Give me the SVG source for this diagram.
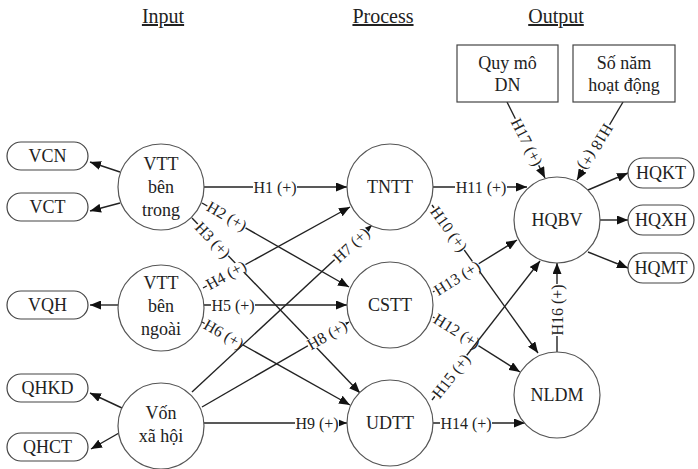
<svg xmlns="http://www.w3.org/2000/svg" width="698" height="469" viewBox="0 0 698 469" font-family="'Liberation Serif', 'DejaVu Serif', serif">
<style>
text{font-family:'Liberation Serif','DejaVu Serif',serif;fill:#222;text-anchor:middle}
.t{font-size:18px}
.title{font-size:20px;text-decoration:underline}
.lb{font-size:16px}
.c{fill:#fff;stroke:#555;stroke-width:1.2}
.b{fill:#fff;stroke:#444;stroke-width:1.2}
.e{stroke:#222;stroke-width:1.4;fill:none}
.a{marker-end:url(#ah)}
.bg{fill:#fff}
</style>
<defs>
<marker id="ah" markerUnits="userSpaceOnUse" markerWidth="11" markerHeight="9" refX="11" refY="4.5" orient="auto"><path d="M0,0 L11,4.5 L0,9 z" fill="#111"/></marker>
</defs>
<rect width="698" height="469" fill="#fff"/>
<g id="titles">
<text class="title" x="163" y="23">Input</text>
<text class="title" x="383" y="23">Process</text>
<text class="title" x="556" y="23">Output</text>
</g>
<g id="connectors">
<line class="e a" x1="120" y1="172" x2="90" y2="162"/>
<line class="e a" x1="120" y1="203" x2="90" y2="211"/>
<line class="e a" x1="118" y1="305" x2="90" y2="305"/>
<line class="e a" x1="122" y1="408" x2="90" y2="393"/>
<line class="e a" x1="119" y1="433" x2="91" y2="449"/>
<line class="e a" x1="588" y1="190" x2="628" y2="173"/>
<line class="e a" x1="600" y1="220" x2="628" y2="220"/>
<line class="e a" x1="588" y1="252" x2="628" y2="268"/>
<g id="h1"><line class="e a" x1="204" y1="187" x2="347" y2="187"/><g transform="translate(275,187)"><rect class="bg" x="-22" y="-6" width="44" height="12"/><text class="lb" dy="5.5">H1 (+)</text></g></g>
<g id="h2"><line class="e a" x1="202" y1="203" x2="349" y2="287"/><g transform="translate(227,216) rotate(30)"><rect class="bg" x="-22" y="-6" width="44" height="12"/><text class="lb" dy="5.5">H2 (+)</text></g></g>
<g id="h3"><line class="e a" x1="192" y1="218" x2="360" y2="393"/><g transform="translate(213,240) rotate(46)"><rect class="bg" x="-22" y="-6" width="44" height="12"/><text class="lb" dy="5.5">H3 (+)</text></g></g>
<g id="h4"><line class="e a" x1="203" y1="288" x2="350" y2="207"/><g transform="translate(226,275) rotate(-29)"><rect class="bg" x="-22" y="-6" width="44" height="12"/><text class="lb" dy="5.5">H4 (+)</text></g></g>
<g id="h5"><line class="e a" x1="204" y1="305" x2="347" y2="305"/><g transform="translate(233,305)"><rect class="bg" x="-22" y="-6" width="44" height="12"/><text class="lb" dy="5.5">H5 (+)</text></g></g>
<g id="h6"><line class="e a" x1="202" y1="322" x2="350" y2="405"/><g transform="translate(224,334) rotate(30)"><rect class="bg" x="-22" y="-6" width="44" height="12"/><text class="lb" dy="5.5">H6 (+)</text></g></g>
<g id="h7"><line class="e a" x1="192" y1="392" x2="372" y2="225"/><g transform="translate(351,245) rotate(-43)"><rect class="bg" x="-22" y="-6" width="44" height="12"/><text class="lb" dy="5.5">H7 (+)</text></g></g>
<g id="h8"><line class="e a" x1="202" y1="407" x2="349" y2="322"/><g transform="translate(327,335) rotate(-30)"><rect class="bg" x="-22" y="-6" width="44" height="12"/><text class="lb" dy="5.5">H8 (+)</text></g></g>
<g id="h9"><line class="e a" x1="204" y1="423" x2="347" y2="423"/><g transform="translate(317,423)"><rect class="bg" x="-22" y="-6" width="44" height="12"/><text class="lb" dy="5.5">H9 (+)</text></g></g>
<g id="h10"><line class="e a" x1="432" y1="205" x2="538" y2="353"/><g transform="translate(449,229) rotate(54)"><rect class="bg" x="-26" y="-6" width="52" height="12"/><text class="lb" dy="5.5">H10 (+)</text></g></g>
<g id="h11"><line class="e a" x1="433" y1="187" x2="527" y2="187"/><g transform="translate(481,187)"><rect class="bg" x="-26" y="-6" width="52" height="12"/><text class="lb" dy="5.5">H11 (+)</text></g></g>
<g id="h12"><line class="e a" x1="433" y1="317" x2="520" y2="372"/><g transform="translate(457,331) rotate(32)"><rect class="bg" x="-26" y="-6" width="52" height="12"/><text class="lb" dy="5.5">H12 (+)</text></g></g>
<g id="h13"><line class="e a" x1="433" y1="292" x2="517" y2="240"/><g transform="translate(457,278) rotate(-32)"><rect class="bg" x="-26" y="-6" width="52" height="12"/><text class="lb" dy="5.5">H13 (+)</text></g></g>
<g id="h14"><line class="e a" x1="433" y1="423" x2="525" y2="423"/><g transform="translate(466,423)"><rect class="bg" x="-26" y="-6" width="52" height="12"/><text class="lb" dy="5.5">H14 (+)</text></g></g>
<g id="h15"><line class="e a" x1="432" y1="400" x2="540" y2="261"/><g transform="translate(451,376) rotate(-52)"><rect class="bg" x="-26" y="-6" width="52" height="12"/><text class="lb" dy="5.5">H15 (+)</text></g></g>
<g id="h16"><line class="e a" x1="557" y1="352" x2="557" y2="263"/><g transform="translate(557,310) rotate(-90)"><rect class="bg" x="-26" y="-6" width="52" height="12"/><text class="lb" dy="5.5">H16 (+)</text></g></g>
<g id="h17"><line class="e a" x1="507" y1="102" x2="545" y2="178"/><g transform="translate(527,142) rotate(63)"><rect class="bg" x="-26" y="-6" width="52" height="12"/><text class="lb" dy="5.5">H17 (+)</text></g></g>
<g id="h18"><line class="e a" x1="623" y1="102" x2="577" y2="180"/><g transform="translate(596,147) rotate(121)"><rect class="bg" x="-26" y="-6" width="52" height="12"/><text class="lb" dy="5.5">H18 (+)</text></g></g>
</g>
<g id="vcn"><rect class="b" x="7" y="142" width="81" height="28" rx="14"/><text class="t" x="47.5" y="162">VCN</text></g>
<g id="vct"><rect class="b" x="7" y="193" width="81" height="28" rx="14"/><text class="t" x="47.5" y="213">VCT</text></g>
<g id="vqh"><rect class="b" x="7" y="291" width="81" height="28" rx="14"/><text class="t" x="47.5" y="311">VQH</text></g>
<g id="qhkd"><rect class="b" x="7" y="374" width="81" height="28" rx="14"/><text class="t" x="47.5" y="394">QHKD</text></g>
<g id="qhct"><rect class="b" x="7" y="433" width="81" height="28" rx="14"/><text class="t" x="47.5" y="453">QHCT</text></g>
<g id="vtt-trong"><circle class="c" cx="161" cy="187" r="43"/><text class="t" x="161" y="170">VTT</text><text class="t" x="161" y="193">bên</text><text class="t" x="161" y="216">trong</text></g>
<g id="vtt-ngoai"><circle class="c" cx="161" cy="308" r="43"/><text class="t" x="161" y="289">VTT</text><text class="t" x="161" y="312">bên</text><text class="t" x="161" y="335">ngoài</text></g>
<g id="von"><circle class="c" cx="161" cy="426" r="43"/><text class="t" x="161" y="419">Vốn</text><text class="t" x="161" y="442">xã hội</text></g>
<g id="tntt"><circle class="c" cx="390" cy="187" r="43"/><text class="t" x="390" y="193">TNTT</text></g>
<g id="cstt"><circle class="c" cx="390" cy="305" r="43"/><text class="t" x="390" y="311">CSTT</text></g>
<g id="udtt"><circle class="c" cx="390" cy="423" r="43"/><text class="t" x="390" y="429">UDTT</text></g>
<g id="hqbv"><circle class="c" cx="557" cy="220" r="43"/><text class="t" x="557" y="226">HQBV</text></g>
<g id="nldm"><circle class="c" cx="557" cy="395" r="43"/><text class="t" x="557" y="401">NLDM</text></g>
<g id="quymo"><rect class="b" x="457" y="45" width="101" height="57"/><text class="t" x="507.5" y="69">Quy mô</text><text class="t" x="507.5" y="91">DN</text></g>
<g id="sonam"><rect class="b" x="573" y="45" width="102" height="57"/><text class="t" x="624" y="69">Số năm</text><text class="t" x="624" y="91">hoạt động</text></g>
<g id="hqkt"><rect class="b" x="628" y="158" width="66" height="30" rx="15"/><text class="t" x="661" y="179">HQKT</text></g>
<g id="hqxh"><rect class="b" x="628" y="205" width="66" height="30" rx="15"/><text class="t" x="661" y="226">HQXH</text></g>
<g id="hqmt"><rect class="b" x="628" y="253" width="66" height="30" rx="15"/><text class="t" x="661" y="274">HQMT</text></g>
</svg>
